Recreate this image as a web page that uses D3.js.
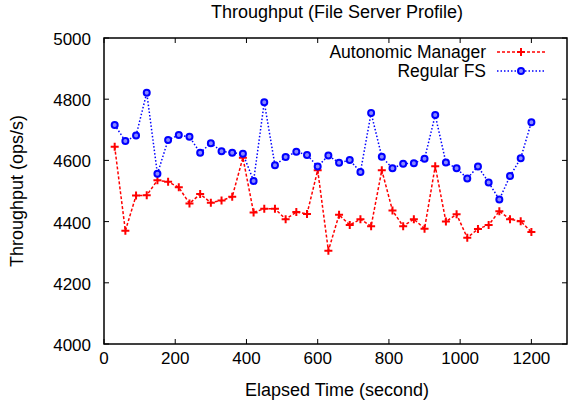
<!DOCTYPE html>
<html>
<head>
<script src="https://d3js.org/d3.v7.min.js"></script>
<style>
  body { margin: 0; background: #fff; }
  svg text { font-family: "Liberation Sans", Arial, sans-serif; fill: #000; }
</style>
</head>
<body>
<div id="chart"></div>
<script>
// elapsed time (s), one sample every 30 s
const times = d3.range(1, 41).map(i => i * 30);

const autonomic = [4645, 4370, 4485, 4486, 4535, 4530, 4512, 4459, 4490, 4462,
  4469, 4481, 4609, 4430, 4442, 4442, 4408, 4431, 4425, 4568,
  4305, 4422, 4389, 4408, 4385, 4568, 4436, 4385, 4408, 4377,
  4581, 4400, 4424, 4347, 4376, 4389, 4434, 4408, 4401, 4366];

const regular = [4716, 4663, 4681, 4821, 4556, 4667, 4683, 4677, 4625, 4656,
  4630, 4625, 4622, 4533, 4790, 4584, 4611, 4628, 4618, 4580,
  4616, 4592, 4601, 4562, 4755, 4612, 4574, 4589, 4591, 4605,
  4748, 4593, 4574, 4541, 4580, 4528, 4472, 4549, 4607, 4725];

const xTicks = [0, 200, 400, 600, 800, 1000, 1200];
const yTicks = [4000, 4200, 4400, 4600, 4800, 5000];

const width = 568, height = 406;
const margin = {left: 104, right: 1, top: 38, bottom: 62};

const svg = d3.select("#chart").append("svg")
  .attr("width", width).attr("height", height);

const x = d3.scaleLinear().domain([0, 1300]).range([margin.left, width - margin.right]);
const y = d3.scaleLinear().domain([4000, 5000]).range([height - margin.bottom, margin.top]);

const fs = 18, tfs = 17;

// ticks (inward, mirrored)
const tickLen = 5;
const ax = svg.append("g").attr("stroke", "#000").attr("stroke-width", 1);
xTicks.forEach(t => {
  ax.append("line").attr("x1", x(t)).attr("x2", x(t)).attr("y1", y(4000)).attr("y2", y(4000) - tickLen);
  ax.append("line").attr("x1", x(t)).attr("x2", x(t)).attr("y1", y(5000)).attr("y2", y(5000) + tickLen);
});
yTicks.forEach(t => {
  ax.append("line").attr("x1", x(0)).attr("x2", x(0) + tickLen).attr("y1", y(t)).attr("y2", y(t));
  ax.append("line").attr("x1", x(1300)).attr("x2", x(1300) - tickLen).attr("y1", y(t)).attr("y2", y(t));
});

svg.append("rect")
  .attr("x", x(0)).attr("y", y(5000))
  .attr("width", x(1300) - x(0)).attr("height", y(4000) - y(5000))
  .attr("fill", "none").attr("stroke", "#000").attr("stroke-width", 1.5);

svg.selectAll(".xl").data(xTicks).join("text")
  .attr("x", d => x(d)).attr("y", y(4000) + 20)
  .attr("text-anchor", "middle").attr("font-size", tfs)
  .text(d => d);

svg.selectAll(".yl").data(yTicks).join("text")
  .attr("x", x(0) - 13).attr("y", d => y(d) + 7)
  .attr("text-anchor", "end").attr("font-size", tfs)
  .text(d => d);

svg.append("text").attr("x", 337).attr("y", 18)
  .attr("text-anchor", "middle").attr("font-size", fs)
  .text("Throughput (File Server Profile)");

svg.append("text").attr("x", 337).attr("y", 396)
  .attr("text-anchor", "middle").attr("font-size", fs)
  .text("Elapsed Time (second)");

svg.append("text")
  .attr("transform", `translate(23,${y(4500)}) rotate(-90)`)
  .attr("text-anchor", "middle").attr("font-size", fs)
  .text("Throughput (ops/s)");

// series
const line = d3.line().x((d, i) => x(times[i])).y(d => y(d));

svg.append("path").datum(autonomic)
  .attr("d", line).attr("fill", "none")
  .attr("stroke", "#ff0000").attr("stroke-width", 1.5)
  .attr("stroke-dasharray", "3,2");

svg.append("path").datum(regular)
  .attr("d", line).attr("fill", "none")
  .attr("stroke", "#0000ff").attr("stroke-width", 1.5)
  .attr("stroke-dasharray", "1.5,2");

function plus(g, cx, cy) {
  g.append("path").attr("d", `M${cx - 4},${cy}H${cx + 4}M${cx},${cy - 4}V${cy + 4}`)
    .attr("stroke", "#ff0000").attr("stroke-width", 2);
}
function circ(g, cx, cy) {
  g.append("circle").attr("cx", cx).attr("cy", cy).attr("r", 3)
    .attr("fill", "#8888ff").attr("stroke", "#0000ff").attr("stroke-width", 2);
}

const mk = svg.append("g");
autonomic.forEach((v, i) => plus(mk, x(times[i]), y(v)));
regular.forEach((v, i) => circ(mk, x(times[i]), y(v)));

// legend
const lg = svg.append("g");
const legend = [
  {name: "Autonomic Manager", color: "#ff0000", dash: "3,2", mark: plus, yy: 52},
  {name: "Regular FS", color: "#0000ff", dash: "1.5,2", mark: circ, yy: 71}
];
legend.forEach(d => {
  lg.append("text").attr("x", 486).attr("y", d.yy + 6)
    .attr("text-anchor", "end").attr("font-size", 17.5).text(d.name);
  lg.append("line").attr("x1", 497).attr("x2", 546).attr("y1", d.yy).attr("y2", d.yy)
    .attr("stroke", d.color).attr("stroke-width", 1.5).attr("stroke-dasharray", d.dash);
  d.mark(lg, 521, d.yy);
});
</script>
</body>
</html>
